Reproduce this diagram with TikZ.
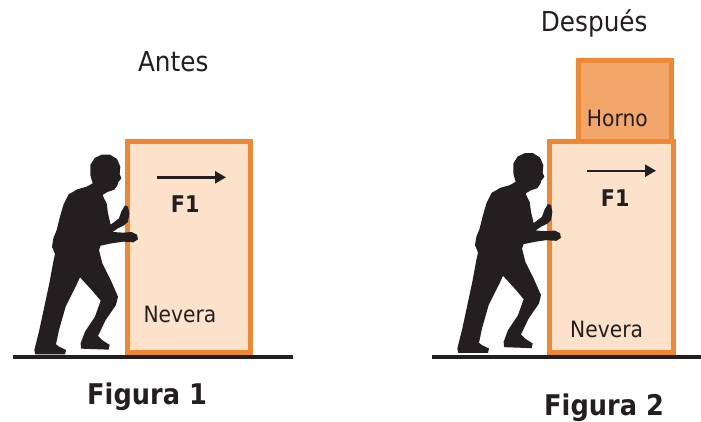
\documentclass[tikz,border=0pt]{standalone}
\usepackage{fontspec}
\setmainfont{DejaVu Sans}[FakeStretch=0.9]
\usetikzlibrary{arrows.meta}
\definecolor{boxfill}{RGB}{252,226,202}
\definecolor{boxline}{RGB}{238,136,52}
\definecolor{hornofill}{RGB}{242,166,106}
\definecolor{ink}{RGB}{35,31,32}
\tikzset{
  appliance/.style={draw=boxline, line width=5pt, inner sep=0pt, outer sep=0pt},
  lbl/.style={anchor=base west, inner sep=0pt, text=ink, font=\fontsize{22.5}{27}\selectfont},
  title/.style={anchor=base west, inner sep=0pt, text=ink, font=\fontsize{27.5}{32}\selectfont},
  flbl/.style={anchor=base west, inner sep=0pt, text=ink, font=\bfseries\fontsize{23}{28}\selectfont},
  caption/.style={anchor=base west, inner sep=0pt, text=ink, font=\bfseries\fontsize{28.5}{34}\selectfont},
  force/.style={draw=ink, line width=2.4pt, -{Triangle[length=11pt,width=12pt]}},
  ground/.style={draw=ink, line width=4pt},
  persona/.pic={
    \fill[ink]
      (218,100) -- (200,110) -- (172,118) -- (146,133) -- (130,165) -- (120,200)
      -- (110,240) -- (100,265) -- (96,290) -- (105,312) -- (100,335)
      -- (88,400) -- (73,470) -- (58,540) -- (48,580) -- (43,600) -- (46,613)
      -- (135,613) -- (138,600) -- (117,590) -- (108,583) -- (117,540)
      -- (137,470) -- (167,410) -- (180,382) -- (215,420) -- (242,452)
      -- (225,500) -- (195,545) -- (182,580) -- (183,596) -- (266,599)
      -- (269,585) -- (246,570) -- (234,558) -- (257,510) -- (288,465)
      -- (294,440) -- (272,390) -- (247,340) -- (237,300) -- (242,287)
      -- (275,280) -- (310,275) -- (340,277) -- (354,268) -- (351,254)
      -- (335,246) -- (310,248) -- (278,246) -- (292,236) -- (312,226)
      -- (324,215) -- (328,190) -- (324,170) -- (315,166) -- (304,185)
      -- (297,205) -- (272,224) -- (264,190) -- (260,160) -- (252,145)
      -- (248,135) -- (262,126) -- (283,119) -- (292,106) -- (295,96)
      -- (304,85) -- (299,72) -- (301,50) -- (291,27) -- (270,14)
      -- (245,14) -- (224,24) -- (211,45) -- (211,75) -- cycle;
  }
}
\begin{document}
\begin{tikzpicture}[x=1pt, y=-1pt]
\useasboundingbox (0,0) rectangle (701,421);
\fill[white] (0,0) rectangle (701,421);

% Figura 1
\node[title] (antes) at (137.8,71.7) {Antes};
\node[appliance, fill=boxfill, minimum width=123pt, minimum height=210.6pt] (nev1) at (189.2,247) {};
\coordinate (g1a) at (12.7,357);
\coordinate (g1b) at (293,357);
\draw[ground] (g1a) -- (g1b);
\coordinate (a1s) at (156.7,177.3);
\coordinate (a1e) at (226,177.3);
\draw[force] (a1s) -- (a1e);
\node[flbl] (f1a) at (170.7,212.7) {F1};
\node[lbl] (nevlbl1) at (143.3,322) {Nevera};
\pic[scale=0.3333] (p1) at (20,150) {persona};
\node[caption] (fig1) at (87,404) {Figura 1};

% Figura 2
\node[title] (despues) at (540.7,31.7) {Después};
\node[appliance, fill=hornofill, minimum width=93pt, minimum height=80.9pt] (horno) at (625,101.25) {};
\node[appliance, fill=boxfill, minimum width=123.7pt, minimum height=210.6pt] (nev2) at (611.65,247) {};
\node[lbl] (hornolbl) at (586.7,126.7) {Horno};
\coordinate (g2a) at (432,357);
\coordinate (g2b) at (701,357);
\draw[ground] (g2a) -- (g2b);
\coordinate (a2s) at (586.7,170.7);
\coordinate (a2e) at (656,170.7);
\draw[force] (a2s) -- (a2e);
\node[flbl] (f1b) at (600.7,206) {F1};
\node[lbl] (nevlbl2) at (570,337.3) {Nevera};
\pic[scale=0.3333] (p2) at (443,148.5) {persona};
\node[caption] (fig2) at (544,415) {Figura 2};
\end{tikzpicture}
\end{document}
